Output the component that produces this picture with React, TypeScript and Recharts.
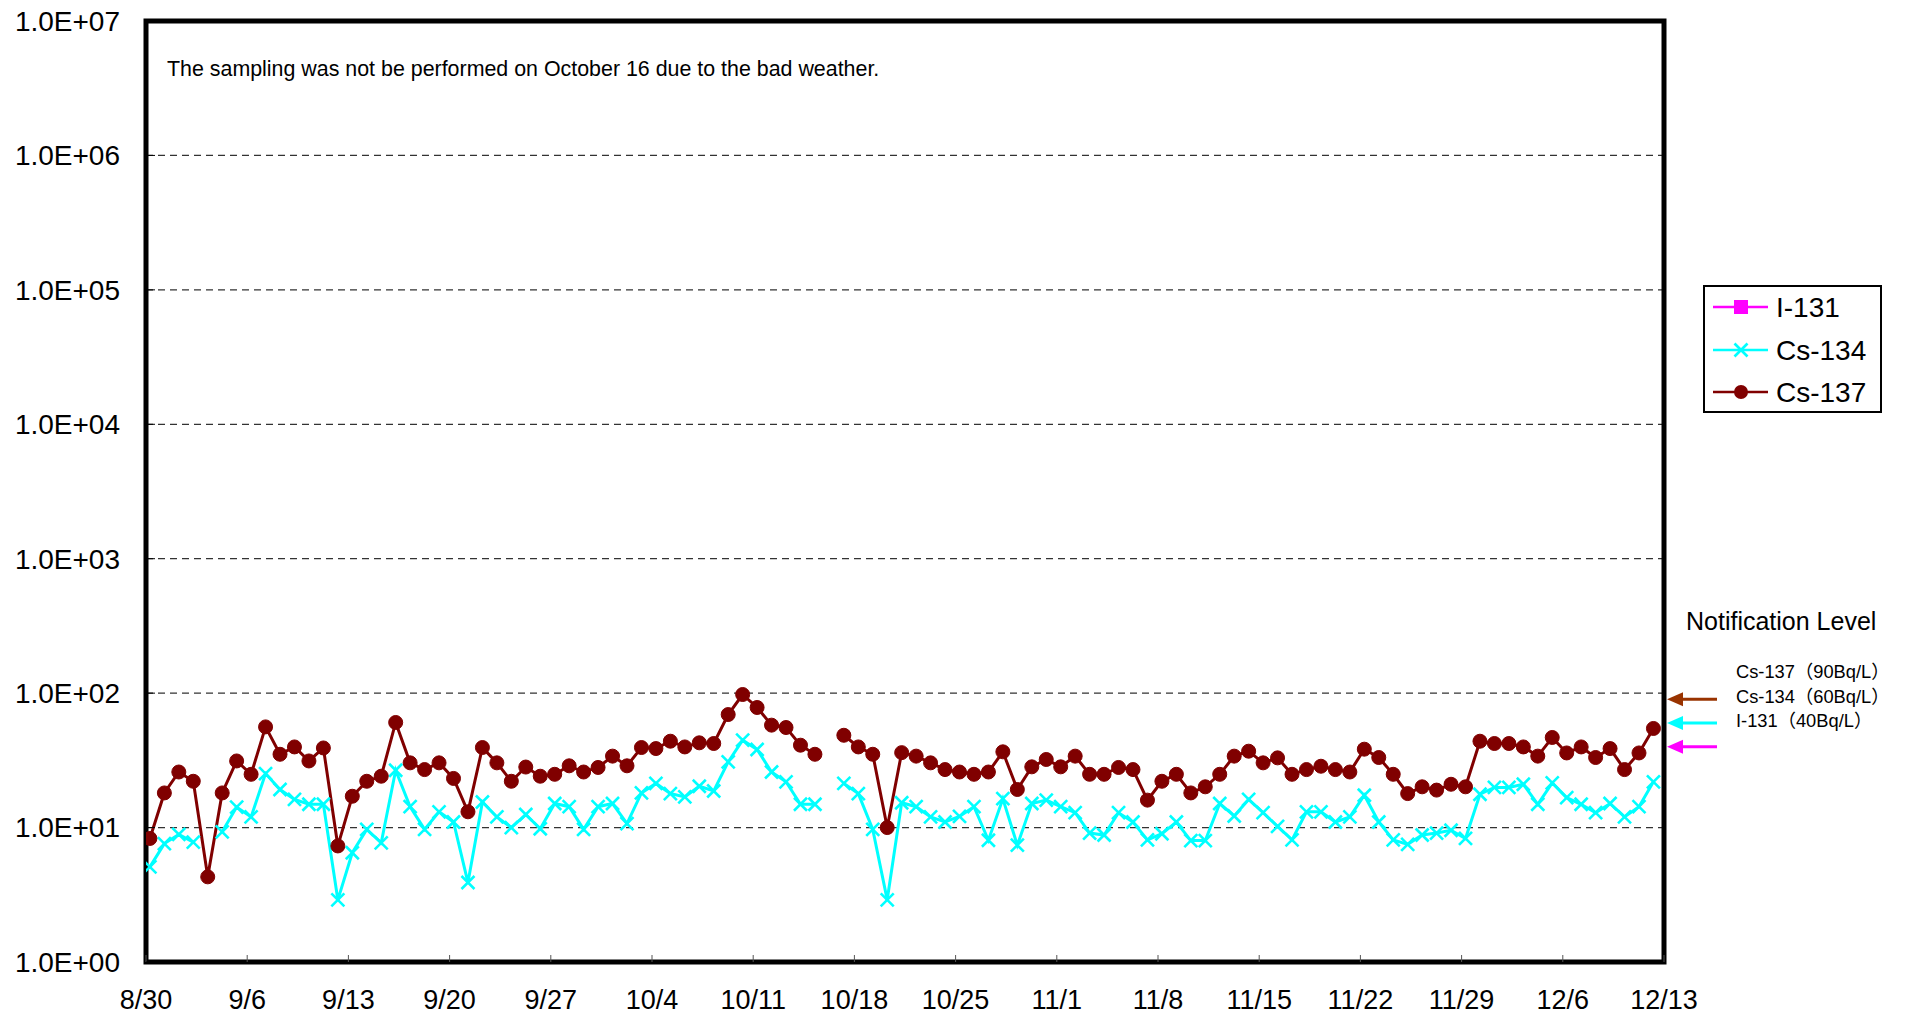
import React from 'react';
import {
  LineChart,
  Line,
  XAxis,
  YAxis,
  CartesianGrid,
  ReferenceArea,
  ReferenceLine,
  Legend,
} from 'recharts';

// ---------- data ----------
// x positions: day offset from 8/30 plus sampling time of day (~6:30)
const sampleTimeOfDay = 0.27;
const tickDays = [0, 7, 14, 21, 28, 35, 42, 49, 56, 63, 70, 77, 84, 91, 98, 105];
const tickLabels = [
  '8/30', '9/6', '9/13', '9/20', '9/27', '10/4', '10/11', '10/18',
  '10/25', '11/1', '11/8', '11/15', '11/22', '11/29', '12/6', '12/13',
];
const yTicks = [1, 10, 100, 1000, 10000, 100000, 1000000, 10000000];
const seriesOrder = ['I-131', 'Cs-134', 'Cs-137'];

// Cs-137 (Bq/L), daily from 8/30 to 12/12; 10/16 not sampled
const cs137: (number | null)[] = [
  8.3, 18.1, 25.9, 22.1, 4.3, 18.1, 31.3, 24.9, 56.1, 35.1,
  39.8, 31.3, 39.1, 7.3, 17.1, 22.1, 24.1, 60.5, 30.3, 27.0,
  30.3, 23.2, 13.1, 39.4, 30.3, 22.1, 28.2, 24.1, 24.9, 28.8,
  25.9, 28.0, 34.0, 28.8, 39.4, 38.7, 43.9, 39.8, 42.7, 42.2,
  69.3, 97.7, 78.2, 57.8, 55.5, 41.0, 35.1, null, 48.6, 39.8,
  35.1, 10.0, 36.1, 34.0, 30.3, 27.0, 25.9, 24.9, 25.9, 36.6,
  19.2, 28.3, 32.1, 28.3, 34.0, 24.9, 24.9, 28.0, 27.0, 16.0,
  22.1, 24.9, 18.1, 20.1, 24.9, 34.0, 37.0, 30.3, 33.0, 24.9,
  27.0, 28.6, 27.0, 25.9, 38.3, 33.2, 24.9, 17.9, 20.1, 19.0,
  21.0, 20.1, 43.9, 42.2, 42.2, 39.8, 34.0, 46.8, 35.9, 39.8,
  33.2, 38.7, 27.0, 35.9, 54.6,
];

// Cs-134 (Bq/L)
const cs134: (number | null)[] = [
  5.1, 7.6, 8.9, 7.8, null, 9.3, 14.2, 12.0, 25.2, 19.2,
  16.2, 14.9, 14.9, 2.9, 6.5, 9.7, 7.7, 26.7, 14.3, 9.7,
  13.1, 11.0, 3.9, 15.5, 12.0, 10.0, 12.5, 9.8, 15.1, 14.3,
  9.7, 14.3, 15.1, 10.7, 18.1, 21.3, 17.9, 16.9, 20.3, 18.7,
  30.8, 44.7, 38.1, 25.9, 21.9, 14.9, 14.9, null, 21.3, 17.9,
  9.7, 2.9, 15.3, 14.3, 12.0, 11.0, 12.1, 14.3, 8.05, 16.4,
  7.4, 15.1, 16.0, 14.3, 12.9, 9.1, 8.8, 12.9, 11.0, 8.1,
  9.0, 11.0, 8.0, 8.0, 15.1, 12.2, 16.2, 12.9, 10.2, 8.1,
  13.1, 13.1, 11.0, 12.0, 17.4, 11.0, 8.1, 7.5, 8.8, 9.1,
  9.55, 8.3, 17.7, 19.9, 19.9, 21.0, 14.9, 21.5, 16.7, 14.9,
  12.9, 15.1, 12.0, 14.3, 21.9,
];

// I-131: no detections
const i131: (number | null)[] = cs137.map(() => null);

const notificationLevels = [
  { name: 'Cs-137', value: 90, color: '#993300', label: 'Cs-137（90Bq/L）' },
  { name: 'Cs-134', value: 60, color: '#00FFFF', label: 'Cs-134（60Bq/L）' },
  { name: 'I-131', value: 40, color: '#FF00FF', label: 'I-131（40Bq/L）' },
];

const data = cs137.map((v, i) => ({
  t: i + sampleTimeOfDay,
  cs137: v,
  cs134: cs134[i],
  i131: i131[i],
}));

// ---------- styles ----------
const FONT = '"Liberation Sans", Arial, "Noto Sans CJK JP", sans-serif';
const C137 = '#800000';
const C134 = '#00FFFF';
const C131 = '#FF00FF';
const X_TICK_MARGIN = 28;
const Y_TICK_MARGIN = 26;

const fmtExp = (v: number) => {
  const e = Math.round(Math.log10(v));
  return `1.0E+${String(e).padStart(2, '0')}`;
};

const XTick = (props: any) => {
  const { x, y, payload } = props;
  const axisY = y - X_TICK_MARGIN;
  const idx = tickDays.indexOf(payload.value);
  return (
    <g>
      <line x1={x} x2={x} y1={axisY} y2={axisY - 7} stroke="#555" strokeWidth={1} />
      <text x={x} y={y} dy="0.71em" textAnchor="middle" fontSize={27} fontFamily={FONT} fill="#000">
        {idx >= 0 ? tickLabels[idx] : ''}
      </text>
    </g>
  );
};

const YTick = (props: any) => {
  const { x, y, payload } = props;
  const axisX = x + Y_TICK_MARGIN;
  return (
    <g>
      <line x1={axisX} x2={axisX + 9} y1={y} y2={y} stroke="#000" strokeWidth={1} />
      <text x={x} y={y} dy="0.35em" textAnchor="end" fontSize={28} fontFamily={FONT} fill="#000">
        {fmtExp(payload.value)}
      </text>
    </g>
  );
};

const CrossDot = (props: any) => {
  const { cx, cy, value } = props;
  if (cx == null || cy == null || value == null || Number.isNaN(cy)) return <g />;
  const s = 6.5;
  return (
    <g>
      <line x1={cx - s} y1={cy - s} x2={cx + s} y2={cy + s} stroke={C134} strokeWidth={2.6} />
      <line x1={cx - s} y1={cy + s} x2={cx + s} y2={cy - s} stroke={C134} strokeWidth={2.6} />
    </g>
  );
};

const LegendMarker = ({ name, x, y }: { name: string; x: number; y: number }) => {
  if (name === 'I-131') return <rect x={x - 7} y={y - 7} width={14} height={14} fill={C131} />;
  if (name === 'Cs-134') {
    const s = 6.5;
    return (
      <g>
        <line x1={x - s} y1={y - s} x2={x + s} y2={y + s} stroke={C134} strokeWidth={2.6} />
        <line x1={x - s} y1={y + s} x2={x + s} y2={y - s} stroke={C134} strokeWidth={2.6} />
      </g>
    );
  }
  return <circle cx={x} cy={y} r={7} fill={C137} />;
};

const LegendBox = (props: any) => {
  const payload = [...(props.payload || [])].sort(
    (a: any, b: any) => seriesOrder.indexOf(a.value) - seriesOrder.indexOf(b.value),
  );
  const rows = [22, 65, 107];
  return (
    <svg width={179} height={128} style={{ display: 'block' }}>
      <rect x={1} y={1} width={177} height={126} fill="#fff" stroke="#000" strokeWidth={2} />
      {payload.map((p: any, i: number) => (
        <g key={p.value}>
          <line x1={10} x2={65} y1={rows[i]} y2={rows[i]} stroke={p.color} strokeWidth={2.6} />
          <LegendMarker name={p.value} x={38} y={rows[i]} />
          <text x={73} y={rows[i]} dy="0.35em" fontSize={28} fontFamily={FONT} fill="#000">
            {p.value}
          </text>
        </g>
      ))}
    </svg>
  );
};

const makeArrow = (color: string) => (props: any) => {
  const vb = props.viewBox || {};
  const tipX = (vb.x ?? 0) + (vb.width ?? 0) + 3;
  const y = vb.y ?? 0;
  return (
    <g>
      <line x1={tipX + 14} x2={tipX + 50} y1={y} y2={y} stroke={color} strokeWidth={3} />
      <polygon points={`${tipX},${y} ${tipX + 16},${y - 7} ${tipX + 16},${y + 7}`} fill={color} />
    </g>
  );
};

export default function App() {
  return (
    <div style={{ position: 'absolute', left: 0, top: 0, width: 1910, height: 1018, background: '#fff' }}>
      <LineChart
        width={1910}
        height={1018}
        data={data}
        margin={{ top: 21, right: 246, bottom: 0, left: 0 }}
      >
        <CartesianGrid vertical={false} stroke="#333" strokeDasharray="7 5" strokeWidth={1.2} />
        <XAxis
          dataKey="t"
          type="number"
          domain={[0, 105]}
          ticks={tickDays}
          interval={0}
          height={56}
          axisLine={false}
          tickLine={false}
          tickSize={0}
          tickMargin={X_TICK_MARGIN}
          tick={<XTick />}
          allowDataOverflow
        />
        <YAxis
          type="number"
          scale="log"
          domain={[1, 10000000]}
          ticks={yTicks}
          interval={0}
          width={146}
          axisLine={false}
          tickLine={false}
          tickSize={0}
          tickMargin={Y_TICK_MARGIN}
          tick={<YTick />}
          allowDataOverflow
        />
        <Line
          name="I-131"
          dataKey="i131"
          stroke={C131}
          strokeWidth={3}
          dot={false}
          activeDot={false}
          isAnimationActive={false}
        />
        <Line
          name="Cs-134"
          dataKey="cs134"
          stroke={C134}
          strokeWidth={3}
          dot={<CrossDot />}
          activeDot={false}
          isAnimationActive={false}
        />
        <Line
          name="Cs-137"
          dataKey="cs137"
          stroke={C137}
          strokeWidth={3}
          dot={{ r: 7, fill: C137, stroke: C137, strokeWidth: 1 }}
          activeDot={false}
          isAnimationActive={false}
        />
        {notificationLevels.map((lv) => (
          <ReferenceLine
            key={lv.name}
            y={lv.value}
            stroke="none"
            label={makeArrow(lv.color)}
          />
        ))}
        <ReferenceArea
          x1={0}
          x2={105}
          y1={1}
          y2={10000000}
          fill="none"
          stroke="#000"
          strokeWidth={5}
          ifOverflow="visible"
        />
        <Legend
          layout="horizontal"
          verticalAlign="middle"
          align="center"
          content={<LegendBox />}
          wrapperStyle={{ left: 1703, top: 285, width: 179, height: 128 }}
        />
      </LineChart>
      <svg
        width={1910}
        height={1018}
        style={{ position: 'absolute', left: 0, top: 0, pointerEvents: 'none' }}
      >
        <text x={167} y={69} dy="0.35em" fontSize={21.4} fontFamily={FONT} fill="#000">
          The sampling was not be performed on October 16 due to the bad weather.
        </text>
        <text x={1686} y={621} dy="0.35em" fontSize={25} fontFamily={FONT} fill="#000">
          Notification Level
        </text>
        {notificationLevels.map((lv, i) => (
          <text key={lv.name} x={1736} y={672 + i * 24.5} dy="0.35em" fontSize={18.3} fontFamily={FONT} fill="#000">
            {lv.label}
          </text>
        ))}
      </svg>
    </div>
  );
}
